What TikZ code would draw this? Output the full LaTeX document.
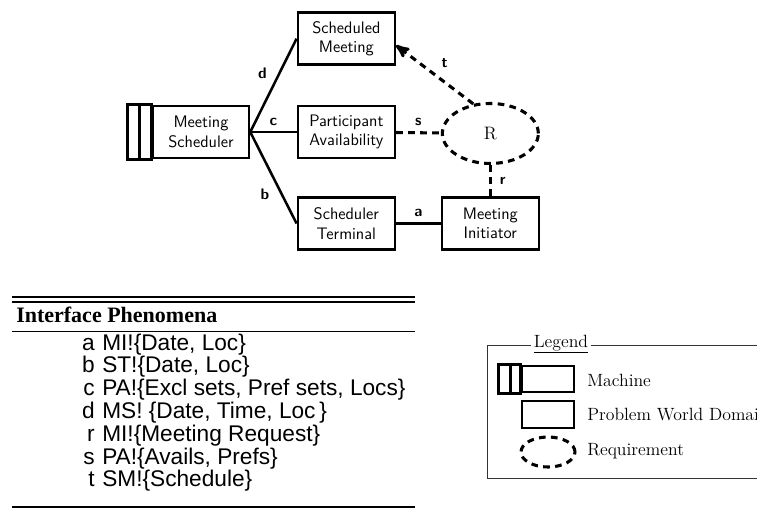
\documentclass[tikz,border=0pt]{standalone}
\usepackage{fontspec}
\usepackage{tikz}
\usetikzlibrary{arrows}
\usetikzlibrary{shapes}
\usetikzlibrary{positioning}
\newfontfamily\tabsans{Liberation Sans}
\newfontfamily\tabserif{Liberation Serif}
\newcommand{\diagfont}{\sffamily\fontsize{12.5}{14.5}\selectfont}
\newcommand{\lblfont}{\sffamily\bfseries\fontsize{11.5}{13}\selectfont}
\newcommand{\headfont}{\tabserif\bfseries\fontsize{16.5}{20}\selectfont}
\newcommand{\rowfont}{\tabsans\fontsize{17}{19}\selectfont}
\newcommand{\legfont}{\fontsize{13.3}{16}\selectfont}

\begin{document}
\begin{tikzpicture}[x=0.75pt,y=-0.75pt,on grid,>=stealth',auto,
		worldbox/.style={rectangle,draw=black,line width=1.9pt,align=center,minimum width=72.75pt,minimum height=39pt,font=\diagfont},
		machinebox/.style={worldbox,minimum width=72pt},
		reqbox/.style={ellipse,draw=black,line width=2.3pt,dash pattern=on 5pt off 4pt,minimum width=72pt,minimum height=45pt,font=\fontsize{13.5}{15}\selectfont},
		reqlink/.style={line width=2.3pt,dash pattern=on 5pt off 4pt},
		lbl/.style={font=\lblfont,inner sep=4pt},
		cell/.style={inner sep=0pt}]
		\useasboundingbox (0,0) rectangle (757,519);
		
		\node[machinebox] (ms)                      at (201,132) {Meeting\\Scheduler};
		\node[worldbox]   (pa) [right=109pt of ms]  {Participant\\Availability};
		\node[worldbox]   (sm) [above=70pt of pa]   {Scheduled\\Meeting};
		\node[worldbox]   (st) [below=68.6pt of pa] {Scheduler\\Terminal};
		\node[worldbox]   (mi) [right=108pt of st]  {Meeting\\Initiator};
		\node[reqbox]     (r)  [above=67.5pt of mi] {R};
		
		\draw[line width=1.9pt] ([xshift=-18pt]ms.north west) rectangle (ms.south west);
		\draw[line width=1.9pt] ([xshift=-9pt]ms.north west) -- ([xshift=-9pt]ms.south west);
		
		\path[line width=1.9pt]
		(ms.east) edge node[lbl] {d} (sm.west)
		(ms.east) edge node[lbl] {c} (pa.west)
		(ms.east) edge node[lbl,swap,pos=0.55] {b} (st.west)
		(st) edge node[lbl] {a} (mi);
		\path[reqlink]
		(pa) edge node[lbl] {s} (r)
		(r) edge node[lbl,inner sep=6pt] {r} (mi)
		(r.120) edge[->] node[lbl,swap] {t} ([yshift=-5pt]sm.east);
		
		% table
		\draw[line width=1pt] (12,297) -- (415,297) (12,302) -- (415,302);
		\node[cell,anchor=base west,font=\headfont] (hifc) at (16,322) {Interface};
		\node[cell,anchor=base west,font=\headfont] (hphen) at (107,322) {Phenomena};
		\draw[line width=0.6pt] (12,331) -- (415,331);
		\foreach \ltr/\txt [count=\i from 0] in {a/{MI!\{Date, Loc\}},b/{ST!\{Date, Loc\}},
			c/{PA!\{Excl sets, Pref sets, Locs\}},d/{MS! \{Date, Time, Loc\,\}},r/{MI!\{Meeting Request\}},
			s/{PA!\{Avails, Prefs\}},t/{SM!\{Schedule\}}}{
			\node[cell,anchor=base east,font=\rowfont] (ltr-\ltr) at (95,{350+22.8*\i}) {\ltr};
			\node[cell,anchor=base west,font=\rowfont] (txt-\ltr) at (102,{350+22.8*\i}) {\txt};
		}
		\draw[line width=1pt] (12,507) -- (415,507);
		
		% legend
		\draw[line width=0.6pt,draw=black!80] (487,345) rectangle (780,478);
		\node[fill=white,inner sep=2pt,font=\legfont] (legt) at (561,344) {\underline{Legend}};
		\node[worldbox,minimum width=39pt,minimum height=19.5pt] (legm) at (548,379) {};
		\draw[line width=1.9pt] ([xshift=-16.5pt]legm.north west) rectangle (legm.south west);
		\draw[line width=1.9pt] ([xshift=-7.5pt]legm.north west) -- ([xshift=-7.5pt]legm.south west);
		\node[worldbox,minimum width=39pt,minimum height=20pt] (legw) at (548,414.5) {};
		\node[reqbox,minimum width=40.5pt,minimum height=22.5pt] (legr) at (548,452) {};
		\node[cell,anchor=west,font=\legfont] (legmt) at (587,380) {Machine};
		\node[cell,anchor=west,font=\legfont] (legwt) at (587,415) {Problem World Domain};
		\node[cell,anchor=west,font=\legfont] (legrt) at (587,451) {Requirement};
\end{tikzpicture}
\end{document}
